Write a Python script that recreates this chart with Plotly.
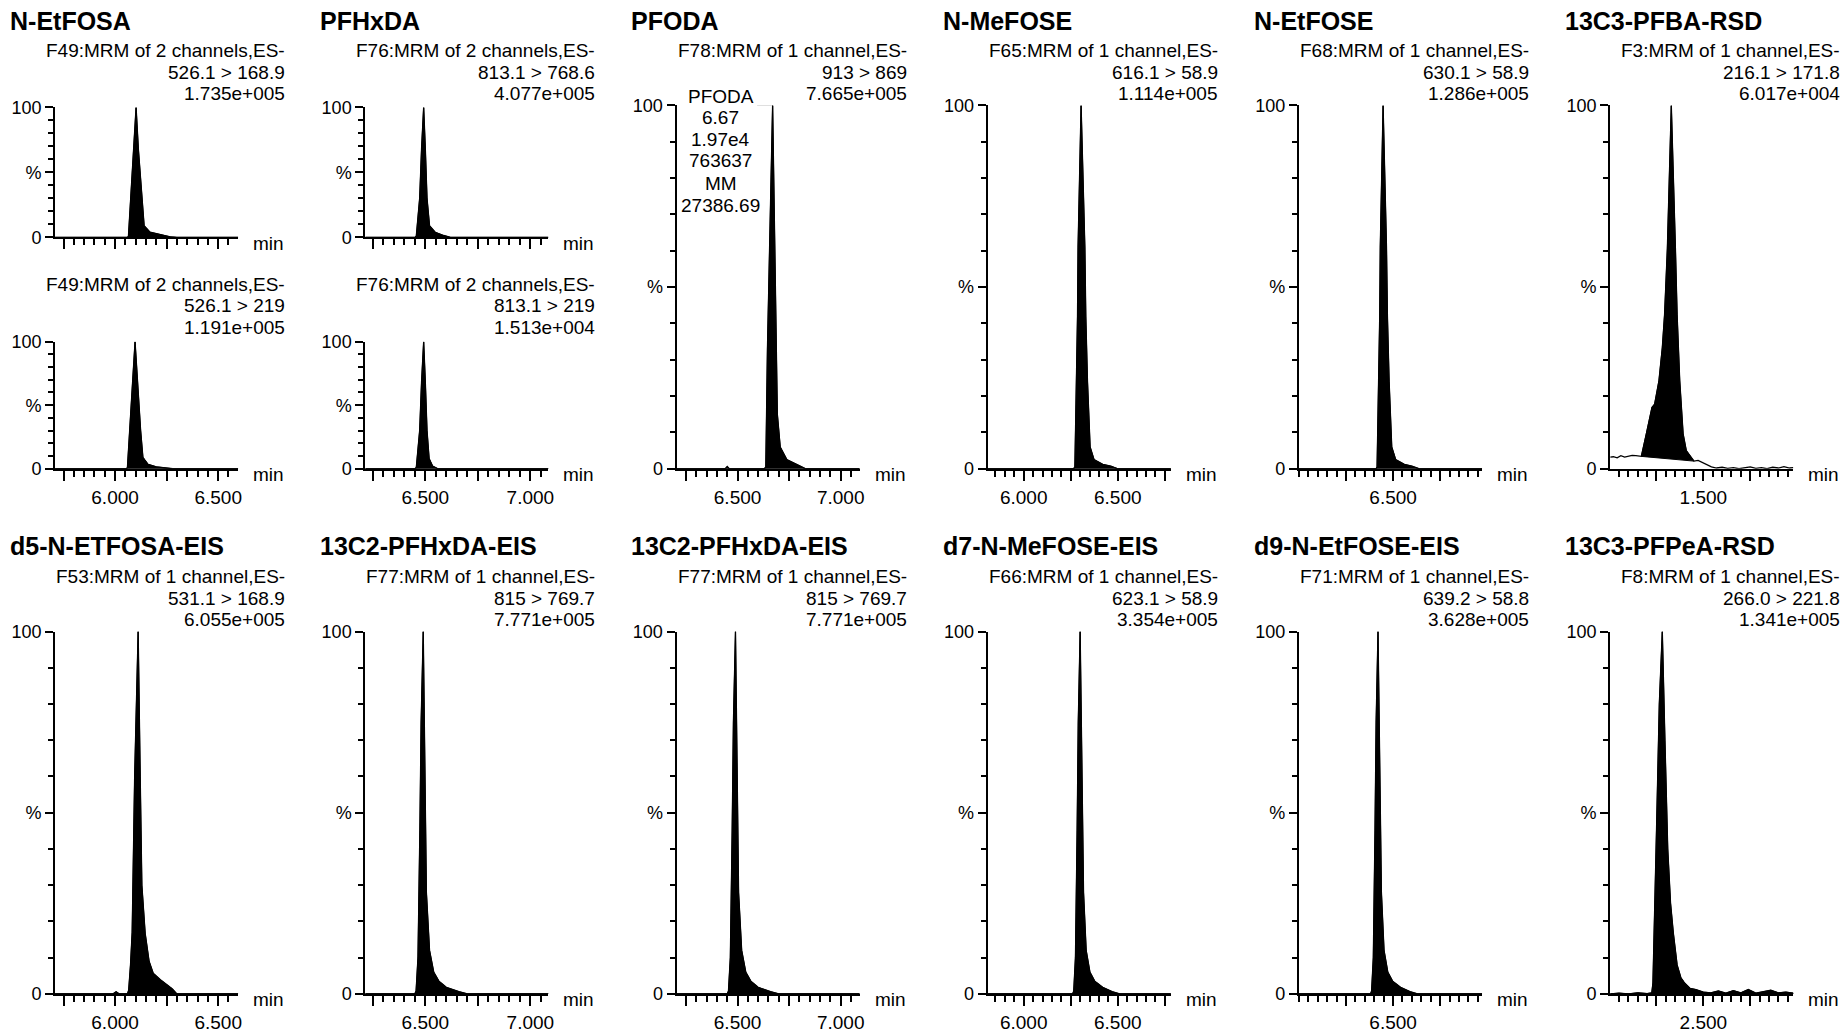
import plotly.graph_objects as go

W, H = 1841, 1033
FONT = "Liberation Sans, Arial, Helvetica, sans-serif"

# ---------------- chromatogram traces: time (min), relative intensity (%) ----------------
NETFOSA_A_T = [5.709, 6.06, 6.065, 6.076, 6.089, 6.102, 6.113, 6.130, 6.141, 6.170, 6.219, 6.267, 6.30, 6.597]
NETFOSA_A_I = [0, 0, 1, 30, 68, 100, 68, 30, 9, 4, 2, 0.5, 0, 0]
NETFOSA_B_T = [5.709, 6.055, 6.060, 6.072, 6.085, 6.097, 6.108, 6.124, 6.135, 6.160, 6.200, 6.240, 6.28, 6.597]
NETFOSA_B_I = [0, 0, 1, 30, 68, 100, 68, 30, 9, 3.5, 1.5, 0.5, 0, 0]

PFHXDA_A_T = [6.214, 6.45, 6.457, 6.473, 6.482, 6.492, 6.500, 6.508, 6.520, 6.547, 6.587, 6.62, 7.086]
PFHXDA_A_I = [0, 0, 1, 30, 68, 100, 68, 30, 9, 4, 1.5, 0, 0]
PFHXDA_B_T = [6.214, 6.45, 6.457, 6.473, 6.482, 6.492, 6.500, 6.508, 6.518, 6.535, 6.56, 7.086]
PFHXDA_B_I = [0, 0, 1, 30, 68, 100, 68, 30, 8, 2, 0, 0]

PFODA_T = [6.204, 6.44, 6.45, 6.46, 6.63, 6.637, 6.645, 6.654, 6.670, 6.683, 6.693, 6.707, 6.739, 6.804, 6.83, 7.092]
PFODA_I = [0, 0, 0.6, 0, 0, 0.5, 33, 61, 100, 52, 15, 6, 2.5, 0.7, 0, 0]

NMEFOSE_T = [5.809, 6.265, 6.272, 6.281, 6.286, 6.289, 6.305, 6.325, 6.330, 6.339, 6.353, 6.374, 6.42, 6.463, 6.50, 6.782]
NMEFOSE_I = [0, 0, 0.5, 24, 42, 61, 100, 61, 42, 24, 6, 2.5, 1.2, 0.7, 0, 0]

NETFOSE_T = [6.0, 6.41, 6.415, 6.424, 6.429, 6.432, 6.447, 6.465, 6.470, 6.479, 6.493, 6.514, 6.56, 6.60, 6.64, 6.973]
NETFOSE_I = [0, 0, 0.5, 24, 42, 61, 100, 61, 42, 24, 6, 2.5, 1.2, 0.7, 0, 0]

PFBA_T = [1.003, 1.02, 1.04, 1.06, 1.08, 1.10, 1.12, 1.14, 1.169, 1.196, 1.226, 1.240, 1.263, 1.281,
          1.293, 1.308, 1.329, 1.351, 1.360, 1.374, 1.392, 1.409, 1.436, 1.45, 1.472, 1.50, 1.543,
          1.57, 1.60, 1.63, 1.66, 1.69, 1.72, 1.75, 1.78, 1.81, 1.84, 1.87, 1.90, 1.93, 1.96, 1.98]
PFBA_I = [3.2, 3.3, 3.0, 3.6, 3.2, 3.5, 3.7, 3.6, 3.4, 9.6, 16.9, 17.8, 24.2, 33.3,
          42.4, 60.6, 100, 60.6, 42.4, 24.2, 9.6, 5.0, 3.2, 2.1, 2.3, 1.6, 0.5,
          0.2, 0.4, 0.1, 0.3, 0, 0.2, 0.5, 0.1, 0.3, 0, 0.4, 0.2, 0.6, 0.2, 0.3]
PFBA_BASE = [1.169, 3.4, 1.45, 2.1]

D5_NETFOSA_T = [5.709, 5.99, 6.005, 6.02, 6.06, 6.066, 6.075, 6.083, 6.095, 6.112, 6.122, 6.130, 6.146,
                6.165, 6.185, 6.22, 6.277, 6.30, 6.597]
D5_NETFOSA_I = [0, 0, 0.6, 0, 0, 1, 8, 17, 60, 100, 60, 30, 16.7, 9, 5.7, 3.9, 1.4, 0, 0]

C13_PFHXDA_T = [6.214, 6.45, 6.456, 6.465, 6.474, 6.480, 6.490, 6.498, 6.505, 6.520, 6.540, 6.565, 6.60, 6.66, 6.70, 7.086]
C13_PFHXDA_I = [0, 0, 0.8, 10, 45, 75, 100, 55, 28, 12, 6, 3.5, 1.8, 0.6, 0, 0]
C13_PFHXDA2_T = [6.204, 6.45, 6.456, 6.465, 6.474, 6.480, 6.490, 6.498, 6.505, 6.520, 6.540, 6.565, 6.60, 6.66, 6.70, 7.092]
C13_PFHXDA2_I = [0, 0, 0.8, 10, 45, 75, 100, 55, 28, 12, 6, 3.5, 1.8, 0.6, 0, 0]

D7_NMEFOSE_T = [5.809, 6.26, 6.266, 6.275, 6.284, 6.290, 6.300, 6.310, 6.318, 6.332, 6.352, 6.378, 6.42, 6.47, 6.51, 6.782]
D7_NMEFOSE_I = [0, 0, 0.8, 10, 45, 75, 100, 55, 28, 12, 6, 3.5, 1.8, 0.6, 0, 0]

D9_NETFOSE_T = [6.0, 6.38, 6.386, 6.395, 6.404, 6.410, 6.420, 6.430, 6.438, 6.452, 6.472, 6.498, 6.54, 6.59, 6.63, 6.973]
D9_NETFOSE_I = [0, 0, 0.8, 10, 45, 75, 100, 55, 28, 12, 6, 3.5, 1.8, 0.6, 0, 0]

PFPEA_T = [2.003, 2.05, 2.10, 2.15, 2.20, 2.225, 2.231, 2.238, 2.25, 2.265, 2.281, 2.295, 2.31, 2.325,
           2.34, 2.36, 2.38, 2.40, 2.43, 2.46, 2.50, 2.54, 2.58, 2.62, 2.66, 2.70, 2.74, 2.78, 2.82,
           2.86, 2.90, 2.94, 2.98]
PFPEA_I = [0, 0.2, 0, 0.3, 0.1, 0.3, 3, 16.7, 45, 80, 100, 70, 40, 25,
           16.7, 8, 4.5, 3, 1.5, 1.2, 0.5, 0.3, 0.8, 0.2, 0.9, 0.3, 1.2, 0.2, 0.6,
           1.0, 0.3, 0.5, 0.2]

# ---------------- axis ranges and labelled ticks per column ----------------
X_RANGES = [[5.709, 6.597], [6.214, 7.086], [6.204, 7.092], [5.809, 6.782], [6.0, 6.973], [1.003, 1.98]]
X_MAJOR = [[5.75, 6.0, 6.25, 6.5], [6.25, 6.5, 6.75, 7.0], [6.25, 6.5, 6.75, 7.0],
           [6.0, 6.25, 6.5, 6.75], [6.25, 6.5, 6.75], [1.25, 1.5, 1.75]]
X_LABELS = [["", "6.000", "", "6.500"], ["", "6.500", "", "7.000"], ["", "6.500", "", "7.000"],
            ["6.000", "", "6.500", ""], ["", "6.500", ""], ["", "1.500", ""]]
PFPEA_RANGE = [2.003, 2.98]
PFPEA_MAJOR = [2.25, 2.5, 2.75]
PFPEA_LABELS = ["", "2.500", ""]

Y_TICKS = [0, 50, 100]
Y_LABELS = ["0", "%", "100"]

PFODA_PEAK_INFO = ["PFODA", "6.67", "1.97e4", "763637", "MM", "27386.69"]

# ---------------- page geometry (pixels) ----------------
COL_X = [55, 365, 676, 987, 1298, 1609]
AX_LEN = 183
PAGE_SX, PAGE_SY, PAGE_OY = 0.996, 0.981, 9.9


def fx(px):
    return (px / PAGE_SX) / W


def fy(py):
    return 1 - ((py - PAGE_OY) / PAGE_SY) / H


TOP_TXT = [51, 73, 94]
SUB_TXT = [286, 308, 330]
BOT_TXT = [581, 603, 624]

PANELS = [
    dict(col=0, top=108, bot=239, t=NETFOSA_A_T, i=NETFOSA_A_I, title="N-EtFOSA", tlab=False,
         sub=["F49:MRM of 2 channels,ES-", "526.1 > 168.9", "1.735e+005"], suby=TOP_TXT, titley=21),
    dict(col=0, top=344, bot=472, t=NETFOSA_B_T, i=NETFOSA_B_I, title=None, tlab=True,
         sub=["F49:MRM of 2 channels,ES-", "526.1 > 219", "1.191e+005"], suby=SUB_TXT),
    dict(col=1, top=108, bot=239, t=PFHXDA_A_T, i=PFHXDA_A_I, title="PFHxDA", tlab=False,
         sub=["F76:MRM of 2 channels,ES-", "813.1 > 768.6", "4.077e+005"], suby=TOP_TXT, titley=21),
    dict(col=1, top=344, bot=472, t=PFHXDA_B_T, i=PFHXDA_B_I, title=None, tlab=True,
         sub=["F76:MRM of 2 channels,ES-", "813.1 > 219", "1.513e+004"], suby=SUB_TXT),
    dict(col=2, top=106, bot=472, t=PFODA_T, i=PFODA_I, title="PFODA", tlab=True,
         sub=["F78:MRM of 1 channel,ES-", "913 > 869", "7.665e+005"], suby=TOP_TXT, titley=21),
    dict(col=3, top=106, bot=472, t=NMEFOSE_T, i=NMEFOSE_I, title="N-MeFOSE", tlab=True,
         sub=["F65:MRM of 1 channel,ES-", "616.1 > 58.9", "1.114e+005"], suby=TOP_TXT, titley=21),
    dict(col=4, top=106, bot=472, t=NETFOSE_T, i=NETFOSE_I, title="N-EtFOSE", tlab=True,
         sub=["F68:MRM of 1 channel,ES-", "630.1 > 58.9", "1.286e+005"], suby=TOP_TXT, titley=21),
    dict(col=5, top=106, bot=472, t=PFBA_T, i=PFBA_I, title="13C3-PFBA-RSD", tlab=True, base=PFBA_BASE,
         sub=["F3:MRM of 1 channel,ES-", "216.1 > 171.8", "6.017e+004"], suby=TOP_TXT, titley=21),
    dict(col=0, top=636, bot=1001, t=D5_NETFOSA_T, i=D5_NETFOSA_I, title="d5-N-ETFOSA-EIS", tlab=True,
         sub=["F53:MRM of 1 channel,ES-", "531.1 > 168.9", "6.055e+005"], suby=BOT_TXT, titley=550),
    dict(col=1, top=636, bot=1001, t=C13_PFHXDA_T, i=C13_PFHXDA_I, title="13C2-PFHxDA-EIS", tlab=True,
         sub=["F77:MRM of 1 channel,ES-", "815 > 769.7", "7.771e+005"], suby=BOT_TXT, titley=550),
    dict(col=2, top=636, bot=1001, t=C13_PFHXDA2_T, i=C13_PFHXDA2_I, title="13C2-PFHxDA-EIS", tlab=True,
         sub=["F77:MRM of 1 channel,ES-", "815 > 769.7", "7.771e+005"], suby=BOT_TXT, titley=550),
    dict(col=3, top=636, bot=1001, t=D7_NMEFOSE_T, i=D7_NMEFOSE_I, title="d7-N-MeFOSE-EIS", tlab=True,
         sub=["F66:MRM of 1 channel,ES-", "623.1 > 58.9", "3.354e+005"], suby=BOT_TXT, titley=550),
    dict(col=4, top=636, bot=1001, t=D9_NETFOSE_T, i=D9_NETFOSE_I, title="d9-N-EtFOSE-EIS", tlab=True,
         sub=["F71:MRM of 1 channel,ES-", "639.2 > 58.8", "3.628e+005"], suby=BOT_TXT, titley=550),
    dict(col=5, top=636, bot=1001, t=PFPEA_T, i=PFPEA_I, title="13C3-PFPeA-RSD", tlab=True,
         xr=PFPEA_RANGE, xm=PFPEA_MAJOR, xl=PFPEA_LABELS,
         sub=["F8:MRM of 1 channel,ES-", "266.0 > 221.8", "1.341e+005"], suby=BOT_TXT, titley=550),
]

fig = go.Figure()
annotations = []
shapes = []
axes = {}

for k, p in enumerate(PANELS):
    n = k + 1
    xa, ya = ("x", "y") if n == 1 else (f"x{n}", f"y{n}")
    xkey, ykey = ("xaxis", "yaxis") if n == 1 else (f"xaxis{n}", f"yaxis{n}")
    c = p["col"]
    x0px = COL_X[c]
    xr = p.get("xr", X_RANGES[c])
    xm = p.get("xm", X_MAJOR[c])
    xl = p.get("xl", X_LABELS[c]) if p["tlab"] else [""] * len(xm)

    t, inten = p["t"], p["i"]
    # filled peak area, bounded below by the integration baseline
    if "base" in p:
        ta, ba, tb, bb = p["base"]
    else:
        ta, ba, tb, bb = t[0], 0, t[-1], 0
    pts = [(tt, ii) for tt, ii in zip(t, inten) if ta <= tt <= tb]
    poly_x = [q[0] for q in pts] + [tb, ta]
    poly_y = [q[1] for q in pts] + [bb, ba]
    fig.add_trace(go.Scatter(x=poly_x, y=poly_y, xaxis=xa, yaxis=ya, mode="lines",
                             fill="toself", fillcolor="black",
                             line=dict(color="black", width=1), hoverinfo="skip", showlegend=False))
    fig.add_trace(go.Scatter(x=t, y=inten, xaxis=xa, yaxis=ya, mode="lines",
                             line=dict(color="black", width=1.3), hoverinfo="skip", showlegend=False))

    axes[xkey] = dict(domain=[fx(x0px), fx(x0px + AX_LEN)], anchor=ya, range=xr,
                      showgrid=False, zeroline=False, showline=True, linecolor="black", linewidth=2,
                      tickmode="array", tickvals=xm, ticktext=xl, ticks="outside", ticklen=10,
                      tickwidth=1.5, tickcolor="black",
                      tickfont=dict(family=FONT, size=19, color="black"),
                      minor=dict(dtick=0.05, tick0=0, ticks="outside", ticklen=6, tickwidth=1.5,
                                 tickcolor="black", showgrid=False),
                      fixedrange=True)
    axes[ykey] = dict(domain=[fy(p["bot"]), fy(p["top"])], anchor=xa, range=[0, 100],
                      showgrid=False, zeroline=False, showline=True, linecolor="black", linewidth=2,
                      tickmode="array", tickvals=Y_TICKS, ticktext=Y_LABELS, ticks="outside",
                      ticklen=8, tickwidth=1.5, tickcolor="black",
                      tickfont=dict(family=FONT, size=18, color="black"),
                      minor=dict(dtick=10, tick0=0, ticks="outside", ticklen=5, tickwidth=1.5,
                                 tickcolor="black", showgrid=False),
                      fixedrange=True)

    if p["title"]:
        annotations.append(dict(text=p["title"], x=fx(x0px - 47), y=fy(p["titley"]), xref="paper",
                                yref="paper", xanchor="left", yanchor="middle", showarrow=False,
                                font=dict(family=FONT, size=25, color="black", weight="bold")))
    for line, yy in zip(p["sub"], p["suby"]):
        annotations.append(dict(text=line, x=fx(x0px + 232), y=fy(yy), xref="paper", yref="paper",
                                xanchor="right", yanchor="middle", showarrow=False,
                                font=dict(family=FONT, size=19, color="black")))
    annotations.append(dict(text="min", x=fx(x0px + AX_LEN + 13), y=fy(p["bot"] + 6), xref="paper",
                            yref="paper", xanchor="left", yanchor="middle", showarrow=False,
                            font=dict(family=FONT, size=19, color="black")))

    if p["title"] == "PFODA":
        # peak label block and its marker line at the apex
        for line, yy in zip(PFODA_PEAK_INFO, [97, 118, 140, 162, 185, 207]):
            annotations.append(dict(text=line, x=fx(720), y=fy(yy), xref="paper", yref="paper",
                                    xanchor="center", yanchor="middle", showarrow=False,
                                    font=dict(family=FONT, size=19, color="black")))
        apex_t = t[inten.index(max(inten))]
        shapes.append(dict(type="line", xref=xa, yref=ya, x0=apex_t - 0.075, x1=apex_t,
                           y0=100.3, y1=100.3, line=dict(color="black", width=2)))

fig.update_layout(width=W, height=H, margin=dict(l=0, r=0, t=0, b=0), autosize=False,
                  paper_bgcolor="white", plot_bgcolor="white", annotations=annotations,
                  shapes=shapes, **axes)

fig.write_html("out.html", post_script="document.body.style.margin='0';")
